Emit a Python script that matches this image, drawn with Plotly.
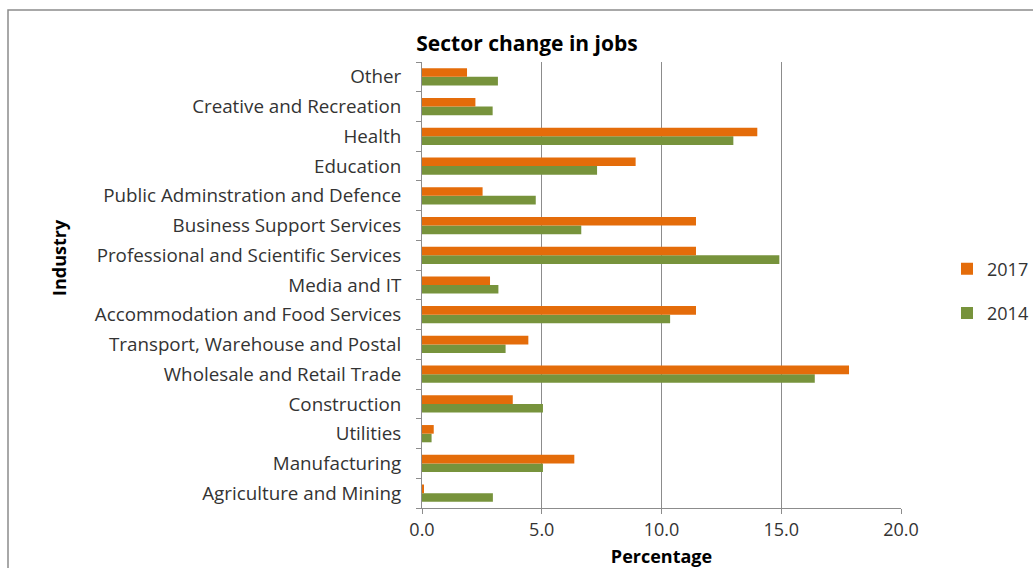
import plotly.graph_objects as go

industries = [
    "Agriculture and Mining", "Manufacturing", "Utilities", "Construction",
    "Wholesale and Retail Trade", "Transport, Warehouse and Postal",
    "Accommodation and Food Services", "Media and IT",
    "Professional and Scientific Services", "Business Support Services",
    "Public Adminstration and Defence", "Education", "Health",
    "Creative and Recreation", "Other",
]
pct_2017 = [0.06, 6.36, 0.49, 3.79, 17.83, 4.44, 11.44, 2.84, 11.44, 11.44, 2.53, 8.92, 14.0, 2.23, 1.88]
pct_2014 = [2.96, 5.05, 0.40, 5.05, 16.4, 3.49, 10.36, 3.19, 14.92, 6.65, 4.75, 7.31, 13.0, 2.95, 3.17]
x_ticks = [0, 5, 10, 15, 20]

pos = list(range(len(industries)))
font = "'Open Sans', sans-serif"

fig = go.Figure()
fig.add_trace(go.Bar(y=pos, x=pct_2014, orientation="h", name="2014",
                     legendgroup="g2014", legendrank=2,
                     marker=dict(color="#77933c", line=dict(width=0))))
fig.add_trace(go.Bar(y=pos, x=pct_2017, orientation="h", name="2017",
                     legendgroup="g2017", legendrank=1,
                     marker=dict(color="#e46c0a", line=dict(width=0))))

fig.update_layout(
    width=1033, height=568,
    margin=dict(l=422, r=132, t=62, b=60, autoexpand=False),
    paper_bgcolor="white", plot_bgcolor="white",
    barmode="group", bargap=0.42, bargroupgap=0,
    font=dict(family=font, size=17, color="#333333"),
    title=dict(text="<b>Sector change in jobs</b>", x=(527 - 422) / 479, xref="paper",
               xanchor="center", y=1 - 44 / 568, yref="container", yanchor="middle",
               font=dict(family=font, size=21, color="black")),
    legend=dict(x=(947 - 422) / 479, y=(508 - 291) / 446, xanchor="left", yanchor="middle",
                traceorder="grouped", font=dict(size=18),
                itemwidth=30, tracegroupgap=18, bgcolor="rgba(0,0,0,0)"),
    showlegend=True,
)
fig.update_xaxes(
    range=[0, 20], tickvals=x_ticks, ticktext=[f"{v:.1f}" for v in x_ticks],
    showgrid=True, gridcolor="#8c8c8c", gridwidth=1, automargin=False,
    showline=True, linecolor="#8c8c8c", ticks="outside", ticklen=5,
    tickcolor="#8c8c8c", zeroline=False, tickfont=dict(size=18),
    title=dict(text="<b>Percentage</b>", standoff=11, font=dict(size=18, color="black")),
)
fig.update_yaxes(
    range=[-0.5, len(industries) - 0.5], tickvals=pos, ticktext=industries,
    showgrid=False, zeroline=False, showline=True, linecolor="#8c8c8c",
    ticks="", ticklabelstandoff=16, automargin=False,
    tickfont=dict(size=18.8),
    minor=dict(ticks="outside", tick0=-0.5, dtick=1, ticklen=5, tickcolor="#8c8c8c", showgrid=False),
)
fig.add_annotation(text="<b>Industry</b>", xref="paper", yref="paper",
                   x=(45 - 422) / 479, y=(508 - 258) / 446, textangle=-90,
                   showarrow=False, font=dict(size=18, color="black"))
# chart area frame
fig.add_shape(type="rect", xref="paper", yref="paper",
              x0=(8 - 422) / 479, x1=1.35, y0=-0.3, y1=(508 - 10) / 446,
              line=dict(color="#8c8c8c", width=1.5), layer="below")

fig.write_html("out.html", config={"displayModeBar": False},
               post_script="document.body.style.margin='0';")
